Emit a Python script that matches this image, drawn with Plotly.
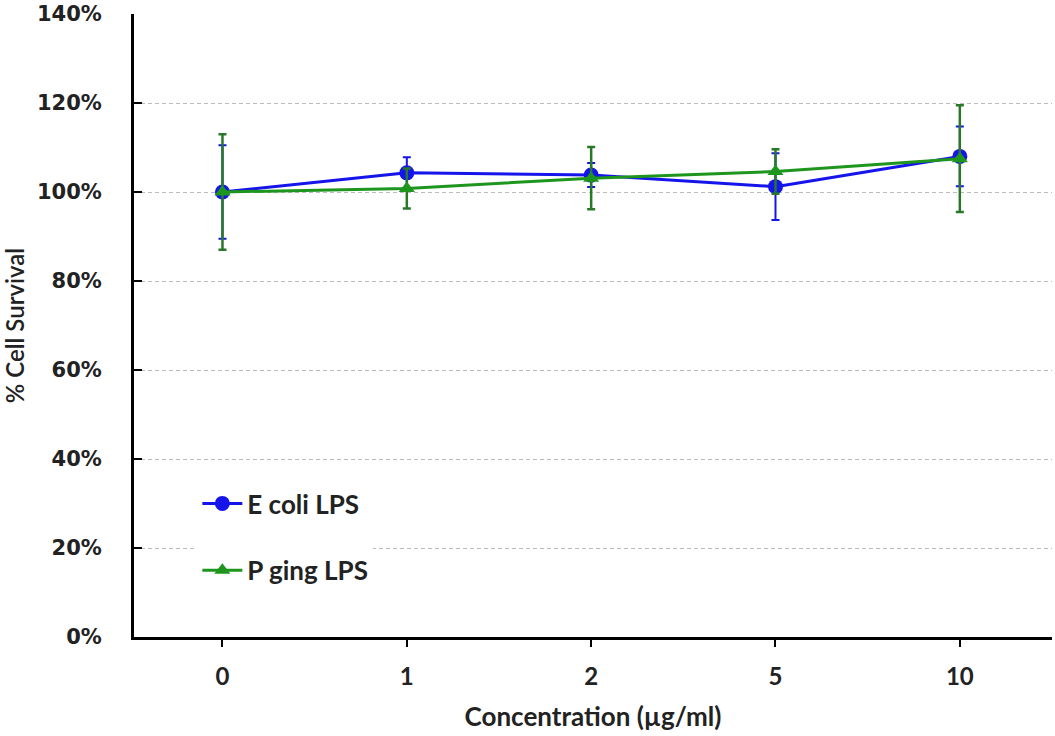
import plotly.graph_objects as go

categories = ["0", "1", "2", "5", "10"]
ecoli = [1.00, 1.043, 1.038, 1.012, 1.080]
ecoli_err = [0.105, 0.035, 0.027, 0.075, 0.067]
pging = [1.00, 1.008, 1.031, 1.046, 1.075]
pging_err = [0.13, 0.045, 0.07, 0.05, 0.12]
yticks = [0, 0.2, 0.4, 0.6, 0.8, 1.0, 1.2, 1.4]

blue = "rgb(20,20,235)"
green = "rgb(30,150,30)"

fig = go.Figure()
fig.add_trace(go.Scatter(
    x=categories, y=ecoli, name="E coli LPS", mode="lines+markers",
    line=dict(color=blue, width=3),
    marker=dict(symbol="circle", size=15, color=blue),
    error_y=dict(type="data", array=ecoli_err, color=blue, thickness=2, width=4),
    legendgroup="a",
))
fig.add_trace(go.Scatter(
    x=categories, y=pging, name="P ging LPS", mode="lines+markers",
    line=dict(color=green, width=3),
    marker=dict(symbol="triangle-up", size=14, color=green),
    error_y=dict(type="data", array=pging_err, color="rgb(40,120,40)", thickness=2.5, width=4),
    legendgroup="b",
))

font_family = "Lato, 'Open Sans', sans-serif"
text_color = "#222"
fig.update_layout(
    width=1055, height=736,
    margin=dict(l=134, r=3, t=14, b=99),
    paper_bgcolor="white", plot_bgcolor="white",
    font=dict(family=font_family, color=text_color),
    showlegend=True,
    legend=dict(
        x=0.069, y=0.252, xanchor="left", yanchor="top",
        bgcolor="rgba(255,255,255,1)", borderwidth=0,
        font=dict(size=26, family=font_family, weight="bold", color=text_color),
        tracegroupgap=30, itemwidth=40,
    ),
    xaxis=dict(
        type="category", range=[-0.48, 4.5], automargin=False,
        showline=True, linecolor="black", linewidth=3,
        ticks="outside", ticklen=7, tickwidth=2, tickcolor="black",
        ticklabelstandoff=9,
        showgrid=False, zeroline=False,
        tickfont=dict(size=24, family=font_family, weight="bold", color=text_color),
        title=dict(text="Concentration (µg/ml)", font=dict(size=26, family=font_family, weight="bold", color=text_color), standoff=20),
    ),
    yaxis=dict(
        range=[0, 1.4], tickvals=yticks, tickformat=".0%", automargin=False,
        showline=True, linecolor="black", linewidth=3,
        ticks="inside", ticklen=8, tickwidth=2, tickcolor="black",
        ticklabelstandoff=25,
        showgrid=True, gridcolor="#bbbbbb", griddash="4px,3px", gridwidth=1,
        zeroline=False,
        tickfont=dict(size=21, family="'DejaVu Sans', Verdana, sans-serif", weight="bold", color=text_color),
        title=dict(text="% Cell Survival", font=dict(size=24, family=font_family, weight=600, color=text_color), standoff=12),
    ),
)

fig.write_html(
    "out.html",
    config={"displayModeBar": False},
    post_script="document.body.style.margin='0';document.body.style.padding='0';",
)
